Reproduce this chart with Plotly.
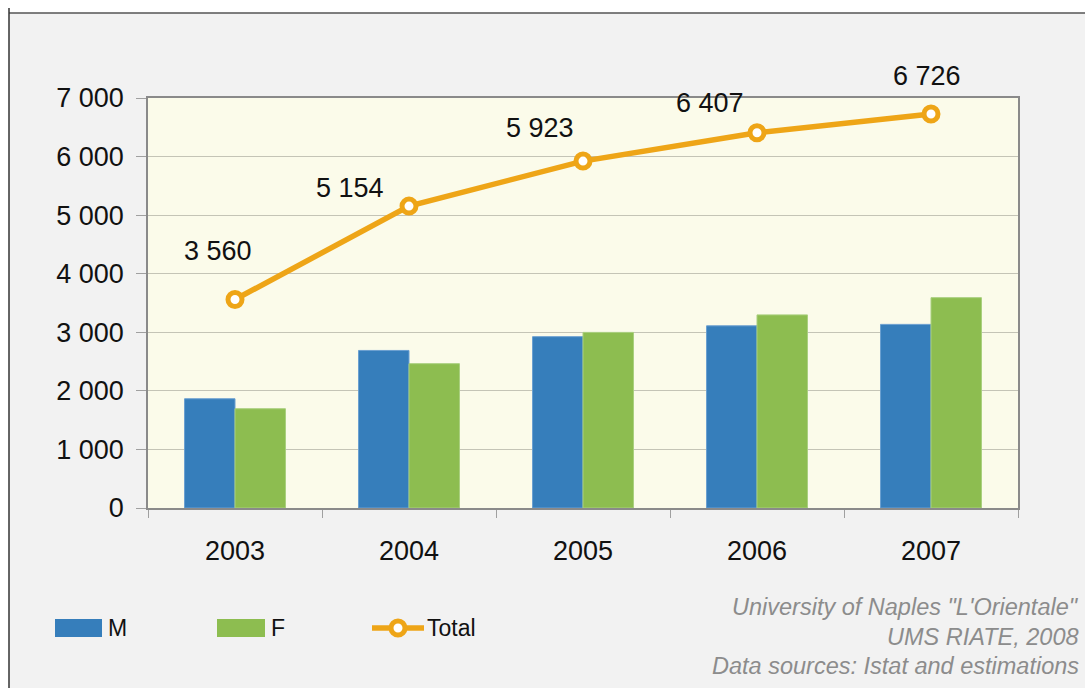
import plotly.graph_objects as go

# Population by sex, 2003-2007
years = ["2003", "2004", "2005", "2006", "2007"]
male = [1865, 2690, 2925, 3110, 3135]
female = [1695, 2464, 2998, 3297, 3591]
total = [3560, 5154, 5923, 6407, 6726]

# label offsets (px) for the total labels
label_dx = [-17, -59, -43, -47, -4]
label_dy = [48, 18, 33, 30, 38]

sources = ['University of Naples "L\'Orientale"', "UMS RIATE, 2008",
           "Data sources: Istat and estimations"]

BLUE = "#367EBB"
GREEN = "#8DBD50"
ORANGE = "#EEA517"
FONT = "Liberation Sans, Arial, sans-serif"

W, H = 1085, 688
ML, MR, MT, MB = 148, 67, 98, 180
PW, PH = W - ML - MR, H - MT - MB


def px(x):
    return (x - ML) / PW


def py(y):
    return (H - MB - y) / PH


def fmt(v):
    return f"{v:,}".replace(",", " ")


fig = go.Figure()
fig.add_trace(go.Bar(x=years, y=male, name="M", marker=dict(color=BLUE, line=dict(color="#6a9fd0", width=1))))
fig.add_trace(go.Bar(x=years, y=female, name="F", marker=dict(color=GREEN, line=dict(color="#a9cf7e", width=1))))
fig.add_trace(go.Scatter(
    x=years, y=total, name="Total", mode="lines+markers",
    line=dict(color=ORANGE, width=5.5),
    marker=dict(symbol="circle", size=14, color="white", line=dict(color=ORANGE, width=5)),
))

annotations = []
# category index positions for the value labels
for i, (v, dx, dy) in enumerate(zip(total, label_dx, label_dy)):
    annotations.append(dict(x=i, y=v, xref="x", yref="y", text=fmt(v), showarrow=False,
                            xshift=dx, yshift=dy, font=dict(family=FONT, size=27, color="#111")))

for i, s in enumerate(sources):
    annotations.append(dict(x=px(1081), y=py(607 + 29.5 * i), xref="paper", yref="paper",
                            xanchor="right", yanchor="middle", text=s, showarrow=False,
                            font=dict(family=FONT, size=23.5, color="#8c8c8c", style="italic")))

shapes = [
    # outer frame
    dict(type="rect", xref="paper", yref="paper", x0=px(-5), x1=px(W + 5), y0=py(-5), y1=py(13),
         fillcolor="white", line=dict(width=0), layer="below"),
    dict(type="rect", xref="paper", yref="paper", x0=px(-5), x1=px(9), y0=py(-5), y1=py(H + 5),
         fillcolor="white", line=dict(width=0), layer="below"),
    dict(type="line", xref="paper", yref="paper", x0=px(9), x1=px(W + 5), y0=py(13), y1=py(13),
         line=dict(color="#555555", width=1.5)),
    dict(type="line", xref="paper", yref="paper", x0=px(9), x1=px(9), y0=py(8), y1=py(H + 5),
         line=dict(color="#333333", width=1.5)),
]

# legend
legend_y = 628
for x0, x1, color, name in [(55, 102, BLUE, "M"), (217, 265, GREEN, "F")]:
    shapes.append(dict(type="rect", xref="paper", yref="paper", x0=px(x0), x1=px(x1),
                       y0=py(legend_y + 9), y1=py(legend_y - 9), fillcolor=color, line=dict(width=0)))
    annotations.append(dict(x=px(x1 + 4), y=py(legend_y), xref="paper", yref="paper", xanchor="left",
                            yanchor="middle", text=name, showarrow=False,
                            font=dict(family=FONT, size=23, color="#111")))
shapes.append(dict(type="line", xref="paper", yref="paper", x0=px(372), x1=px(424),
                   y0=py(legend_y), y1=py(legend_y), line=dict(color=ORANGE, width=5.5)))
shapes.append(dict(type="circle", xref="paper", yref="paper", x0=px(391), x1=px(405),
                   y0=py(legend_y + 7), y1=py(legend_y - 7), fillcolor="white",
                   line=dict(color=ORANGE, width=5)))
annotations.append(dict(x=px(425), y=py(legend_y), xref="paper", yref="paper", xanchor="left",
                        yanchor="middle", text="Total", showarrow=False,
                        font=dict(family=FONT, size=23, color="#111")))

fig.update_layout(
    width=W, height=H,
    margin=dict(l=ML, r=MR, t=MT, b=MB, pad=0),
    paper_bgcolor="#f2f2f2",
    plot_bgcolor="#fbfbea",
    barmode="group", bargap=0.42, bargroupgap=0,
    showlegend=False,
    separators=", ",
    font=dict(family=FONT, size=27, color="#111"),
    annotations=annotations,
    shapes=shapes,
)
fig.update_xaxes(
    type="category", range=[-0.5, len(years) - 0.5],
    showline=True, linecolor="#8a8a8a", linewidth=1.5, mirror=True,
    ticks="outside", tickson="boundaries", ticklen=8, tickcolor="#a0a0a0",
    ticklabelstandoff=18, tickfont=dict(size=27),
)
fig.update_yaxes(
    range=[0, 7000], dtick=1000, tickformat=",d",
    showline=True, linecolor="#8a8a8a", linewidth=1.5, mirror=True,
    gridcolor="#c4c4b6", gridwidth=1.2, zeroline=False,
    ticks="outside", ticklen=10, tickcolor="#a0a0a0",
    ticklabelstandoff=7, tickfont=dict(size=27),
)

fig.write_html("out.html")
